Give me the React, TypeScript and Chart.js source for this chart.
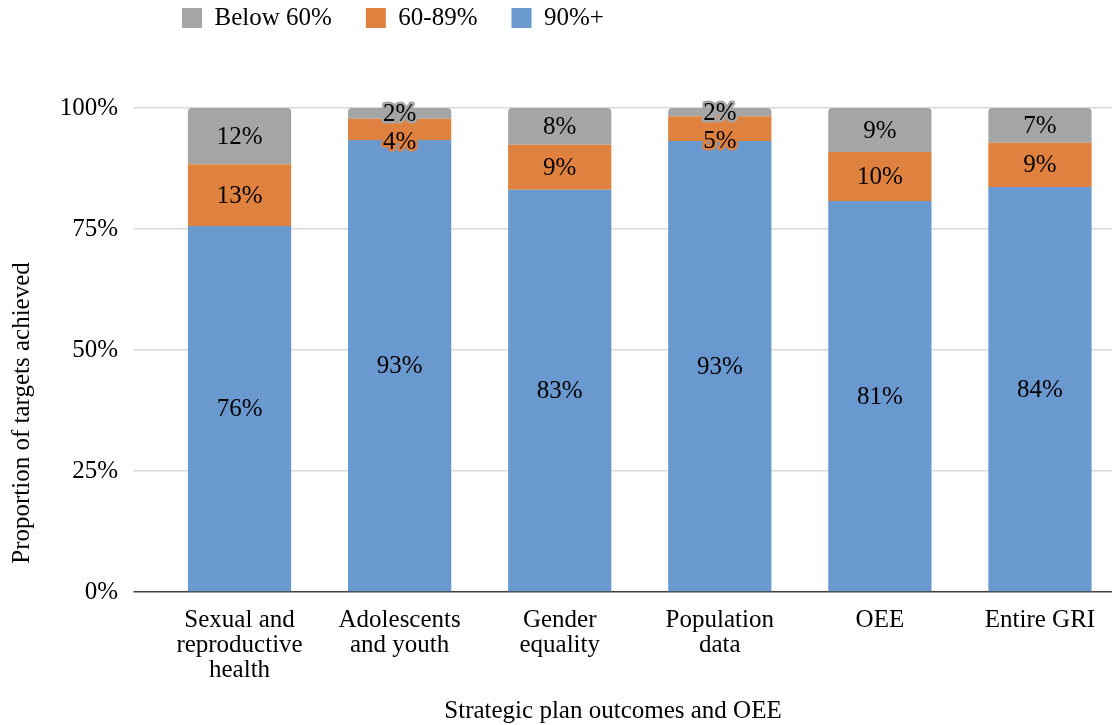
import React, { useEffect, useRef } from "react";
import { Chart, registerables } from "chart.js";

Chart.register(...registerables);

const categories: (string | string[])[] = [
  ["Sexual and", "reproductive", "health"],
  ["Adolescents", "and youth"],
  ["Gender", "equality"],
  ["Population", "data"],
  "OEE",
  "Entire GRI",
];
const above90 = [75.6, 93.4, 83.1, 93.2, 80.8, 83.7];
const from60to89 = [12.8, 4.4, 9.3, 5.1, 10.1, 9.1];
const below60 = [11.6, 2.2, 7.6, 1.7, 9.1, 7.2];
const yTicks = [0, 25, 50, 75, 100];
const seriesNames = ["90%+", "60-89%", "Below 60%"];
const xTitle = "Strategic plan outcomes and OEE";
const yTitle = "Proportion of targets achieved";

const BLUE = "#6A99D0";
const ORANGE = "#E0823F";
const GRAY = "#A5A5A5";
const FONT = "'Liberation Serif', 'Times New Roman', serif";
const FS = 25;

const LEGEND_PAD = 34;

const layoutPlugin = {
  id: "layoutTweaks",
  beforeInit(chart: any) {
    const origFit = chart.legend.fit;
    chart.legend.fit = function () {
      origFit.call(this);
      this.height = 108;
    };
  },
  afterLayout(chart: any) {
    if (chart.legend) {
      chart.legend.left = 182 - LEGEND_PAD;
      chart.legend.top = 5.5 - LEGEND_PAD;
    }
  },
};

const labelPlugin = {
  id: "segmentLabels",
  afterDatasetsDraw(chart: any) {
    const ctx = chart.ctx;
    const n = chart.data.labels.length;
    const dsCount = chart.data.datasets.length;
    ctx.save();
    ctx.font = `${FS}px ${FONT}`;
    ctx.textAlign = "center";
    ctx.textBaseline = "middle";
    ctx.lineJoin = "round";
    for (let i = 0; i < n; i++) {
      let prevY: number | null = null;
      for (let d = dsCount - 1; d >= 0; d--) {
        const meta = chart.getDatasetMeta(d);
        const el = meta.data[i];
        const val = chart.data.datasets[d].data[i];
        let y = (el.y + el.base) / 2;
        if (prevY !== null && y - prevY < 28) y = prevY + 28;
        prevY = y;
        const txt = Math.round(val) + "%";
        ctx.strokeStyle = chart.data.datasets[d].backgroundColor;
        ctx.lineWidth = 5;
        ctx.strokeText(txt, el.x, y + 1);
        ctx.fillStyle = "#000";
        ctx.fillText(txt, el.x, y + 1);
      }
    }
    ctx.restore();
  },
};

const titlePlugin = {
  id: "axisTitles",
  afterDraw(chart: any) {
    const ctx = chart.ctx;
    ctx.save();
    ctx.font = `${FS}px ${FONT}`;
    ctx.fillStyle = "#000";
    ctx.textAlign = "center";
    ctx.textBaseline = "middle";
    ctx.fillText(xTitle, 613, 711);
    ctx.translate(22, 413);
    ctx.rotate(-Math.PI / 2);
    ctx.fillText(yTitle, 0, 0);
    ctx.restore();
  },
};

export default function App() {
  const ref = useRef<HTMLCanvasElement>(null);
  useEffect(() => {
    if (!ref.current) return;
    const chart = new Chart(ref.current, {
      type: "bar",
      data: {
        labels: categories as any,
        datasets: [
          { label: seriesNames[0], data: above90, backgroundColor: BLUE, borderWidth: 0 },
          { label: seriesNames[1], data: from60to89, backgroundColor: ORANGE, borderWidth: 0 },
          {
            label: seriesNames[2],
            data: below60,
            backgroundColor: GRAY,
            borderWidth: 0,
            borderRadius: { topLeft: 4, topRight: 4, bottomLeft: 0, bottomRight: 0 },
            borderSkipped: "start",
          },
        ],
      },
      options: {
        responsive: false,
        animation: false,
        devicePixelRatio: 1,
        layout: { padding: 0 },
        datasets: { bar: { barPercentage: 0.645, categoryPercentage: 1 } },
        plugins: {
          legend: {
            display: true,
            position: "top",
            align: "start",
            reverse: true,
            labels: {
              boxWidth: 20,
              boxHeight: 20,
              padding: LEGEND_PAD,
              color: "#000",
              font: { family: FONT, size: FS },
            },
          },
          tooltip: { enabled: false },
          title: { display: false },
        },
        scales: {
          x: {
            stacked: true,
            grid: { display: false, drawTicks: false },
            border: { display: false },
            ticks: {
              color: "#000",
              font: { family: FONT, size: FS, lineHeight: 1.0 },
              padding: 16,
              maxRotation: 0,
              autoSkip: false,
            },
            afterFit(scale: any) {
              scale.height = 133;
            },
          },
          y: {
            stacked: true,
            min: 0,
            max: 100,
            afterBuildTicks(scale: any) {
              scale.ticks = yTicks.map((v) => ({ value: v }));
            },
            grid: {
              color: (c: any) => (c.tick && c.tick.value === 0 ? "#3f3f3f" : "#d9d9d9"),
              tickColor: (c: any) => (c.tick && c.tick.value === 0 ? "#3f3f3f" : "#d9d9d9"),
              lineWidth: 1.5,
              tickLength: 26,
            },
            border: { display: false },
            ticks: {
              color: "#000",
              font: { family: FONT, size: FS },
              padding: 15.5,
              callback: (v: any) => v + "%",
            },
            afterFit(scale: any) {
              scale.width = 159.5;
            },
          },
        },
      },
      plugins: [layoutPlugin, labelPlugin, titlePlugin],
    });
    return () => chart.destroy();
  }, []);
  return (
    <div
      style={{
        position: "fixed",
        left: 0,
        top: 0,
        width: 1112,
        height: 725,
        overflow: "hidden",
        background: "#fff",
      }}
    >
      <canvas ref={ref} width={1120} height={725} style={{ display: "block" }} />
    </div>
  );
}
